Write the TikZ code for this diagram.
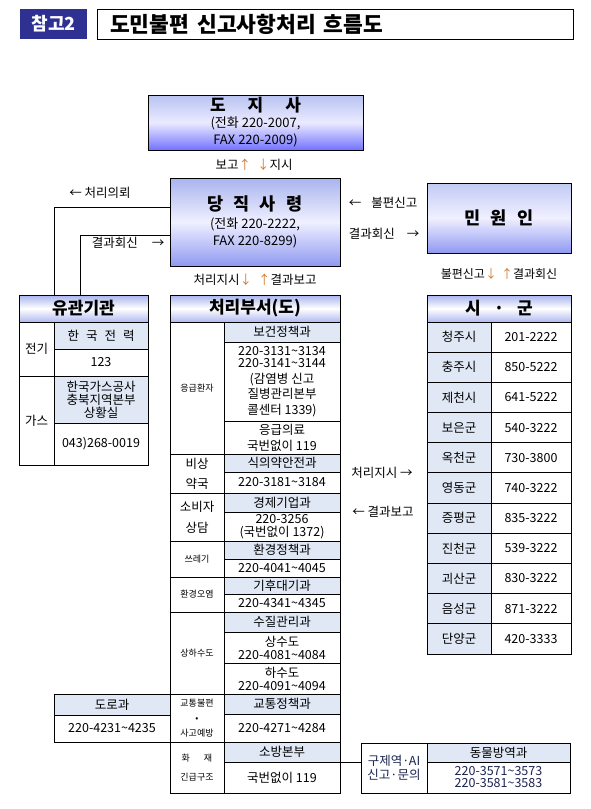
\documentclass[tikz,border=0pt]{standalone}
\usepackage{fontspec}
\setmainfont{Noto Sans CJK KR}
\usetikzlibrary{calc}
\definecolor{lb}{HTML}{E0E8F5}
\definecolor{navy}{HTML}{2E3192}
\definecolor{arrowc}{HTML}{D07A30}
\definecolor{hdtop}{HTML}{A8B4EE}
\definecolor{hdbot}{HTML}{B0BBF0}
\definecolor{txtnavy}{HTML}{1C2450}
\newcommand\fsz[2]{\fontsize{#1}{#2}\selectfont}
\newcommand\uar{{\color{arrowc}↑}}
\newcommand\dar{{\color{arrowc}↓}}
\newcommand\cellnode[7]{\node[cellstyle,#6,minimum width={(#4-#2)*1pt},minimum height={(#5-#3)*1pt}] (#1) at ({(#2+#4)/2},{(#3+#5)/2}) {#7};}
\tikzset{
  cellstyle/.style={draw=black, line width=0.9pt, inner sep=0pt, outer sep=0pt, align=center, font=\fsz{12.5}{14}, text=black},
  lbfill/.style={fill=lb},
  headfill/.style={top color=hdtop, bottom color=hdbot, middle color=white, font=\fsz{17}{20}\bfseries},
  small/.style={font=\fsz{9}{11}},
  mainbox/.style={draw=black, line width=0.9pt, inner sep=0pt, outer sep=0pt, align=center, font=\fsz{13}{17}},
  lbl/.style={inner sep=0pt, font=\fsz{12.5}{14}},
  conn/.style={draw=black, line width=0.9pt}
}
\begin{document}
\begin{tikzpicture}[x=1pt,y=-1pt]
\fill[white] (0,0) rectangle (590,809);
\useasboundingbox (0,0) rectangle (590,809);
% title
\node[fill=navy, text=white, inner sep=0pt, minimum width=67pt, minimum height=30pt, font=\fsz{18}{20}\bfseries] (ref) at (53.5,24) {참고2};
\node[draw=black, line width=1pt, inner sep=0pt, minimum width=476pt, minimum height=30pt] (titlebox) at (335,24) {};
\node[anchor=west, inner sep=0pt, font=\fsz{21.5}{24}\bfseries] (titletext) at (110,24) {도민불편\hspace{8pt}신고사항처리\hspace{8pt}흐름도};
% main boxes
\node[mainbox, top color=hdtop!80!white, bottom color=blue!55!white, middle color=blue!8!white, minimum width=215pt, minimum height=55pt] (doji) at (255.5,122.5)
  {{\fsz{17}{20}\bfseries 도\hspace{22pt}지\hspace{22pt}사}\\[-1pt](전화 220-2007,\\FAX 220-2009)};
\node[lbl] (bogo) at (254,165) {보고\uar\hspace{6pt}\dar 지시};
\node[mainbox, top color=hdtop, bottom color=hdtop!85!blue, middle color=blue!6!white, minimum width=170pt, minimum height=88pt] (dangjik) at (255,222)
  {{\fsz{17.5}{20}\bfseries 당\hspace{10pt}직\hspace{10pt}사\hspace{10pt}령}\\[1pt](전화 220-2222,\\FAX 220-8299)};
\node[lbl] (cheorijisi) at (255,280) {처리지시\dar\hspace{6pt}\uar 결과보고};
\node[mainbox, top color=hdtop!70!white, bottom color=hdtop!85!blue, middle color=blue!6!white, minimum width=144pt, minimum height=70pt] (minwon) at (499,218)
  {{\fsz{17.5}{20}\bfseries 민\hspace{10pt}원\hspace{10pt}인}};
\node[lbl] (bulpyeon) at (383,203) {←\hspace{10pt}불편신고};
\node[lbl] (gyeolgwa) at (384,234) {결과회신\hspace{12pt}→};
\node[lbl, font=\fsz{12}{14}] (mwlabel) at (499,274) {불편신고\dar\hspace{4pt}\uar 결과회신};
% 유관기관
\cellnode{yghead}{19}{295}{148}{322}{headfill}{유관기관}
\cellnode{jeongi}{19}{322}{54}{376}{}{전기}
\cellnode{kepco}{54}{322}{148}{349}{lbfill}{한\hspace{7pt}국\hspace{7pt}전\hspace{7pt}력}
\cellnode{kepcotel}{54}{349}{148}{376}{}{123}
\cellnode{gas}{19}{376}{54}{465}{}{가스}
\cellnode{kogas}{54}{376}{148}{423}{lbfill,font=\fsz{12.5}{13}}{한국가스공사\\충북지역본부\\상황실}
\cellnode{kogastel}{54}{423}{148}{465}{}{043)268-0019}
\node[lbl] (uiroe) at (100,193) {← 처리의뢰};
\node[lbl] (hoesin) at (128,243) {결과회신\hspace{14pt}→};
\coordinate (c1) at ($(dangjik.north west)!0.33!(dangjik.south west)$);
\coordinate (c2) at ($(dangjik.north west)!0.65!(dangjik.south west)$);
\draw[conn] (c1) -| (jeongi.east |- yghead.north);
\draw[conn] (c2) -| ($(yghead.north west)!0.48!(yghead.north east)$);
% 처리부서
\cellnode{chhead}{170}{295}{340}{322}{headfill}{처리부서(도)}
\cellnode{eunggeup}{170}{322}{224}{454}{small}{응급환자}
\cellnode{bogeon}{224}{322}{340}{342}{lbfill}{보건정책과}
\cellnode{bogeontel}{224}{342}{340}{421}{font=\fsz{12.5}{15.5}}{220-3131\textasciitilde3134\\[-3pt]220-3141\textasciitilde3144\\(감염병 신고\\질병관리본부\\콜센터 1339)}
\cellnode{eungmed}{224}{421}{340}{454}{font=\fsz{12.5}{16}}{응급의료\\국번없이 119}
\cellnode{bisang}{170}{454}{224}{493}{font=\fsz{12.5}{20}}{비상\\약국}
\cellnode{sikui}{224}{454}{340}{472}{lbfill}{식의약안전과}
\cellnode{sikuitel}{224}{472}{340}{493}{}{220-3181\textasciitilde3184}
\cellnode{sobija}{170}{493}{224}{541}{font=\fsz{12.5}{21}}{소비자\\상담}
\cellnode{gyeongje}{224}{493}{340}{512}{lbfill}{경제기업과}
\cellnode{gyeongjetel}{224}{512}{340}{541}{font=\fsz{12.5}{12.5}}{220-3256\\(국번없이 1372)}
\cellnode{sseuregi}{170}{541}{224}{577}{small}{쓰레기}
\cellnode{hwangyeong}{224}{541}{340}{559}{lbfill}{환경정책과}
\cellnode{hwangyeongtel}{224}{559}{340}{577}{}{220-4041\textasciitilde4045}
\cellnode{oyeom}{170}{577}{224}{612}{small}{환경오염}
\cellnode{gihu}{224}{577}{340}{594}{lbfill}{기후대기과}
\cellnode{gihutel}{224}{594}{340}{612}{}{220-4341\textasciitilde4345}
\cellnode{sangha}{170}{612}{224}{694}{small}{상하수도}
\cellnode{sujil}{224}{612}{340}{632}{lbfill}{수질관리과}
\cellnode{sangsu}{224}{632}{340}{663}{font=\fsz{12.5}{13}}{상수도\\220-4081\textasciitilde4084}
\cellnode{hasu}{224}{663}{340}{694}{font=\fsz{12.5}{13}}{하수도\\220-4091\textasciitilde4094}
\cellnode{gyotong}{170}{694}{224}{742}{small,font=\fsz{9}{15}}{교통불편\\•\\사고예방}
\cellnode{gyotongjc}{224}{694}{340}{714}{lbfill}{교통정책과}
\cellnode{gyotongtel}{224}{714}{340}{742}{}{220-4271\textasciitilde4284}
\cellnode{hwajae}{170}{742}{224}{793}{small,font=\fsz{9}{19}}{화\hspace{14pt}재\\긴급구조}
\cellnode{sobang}{224}{742}{340}{762}{lbfill}{소방본부}
\cellnode{sobangtel}{224}{762}{340}{793}{}{국번없이 119}
% 도로과
\cellnode{doro}{54}{694}{170}{715}{lbfill}{도로과}
\cellnode{dorotel}{54}{715}{170}{742}{}{220-4231\textasciitilde4235}
% 시군
\cellnode{sghead}{427}{295}{571}{322}{headfill}{시\hspace{13pt}·\hspace{13pt}군}
\foreach \nm/\tl [count=\i from 0] in {청주시/201-2222,충주시/850-5222,제천시/641-5222,보은군/540-3222,옥천군/730-3800,영동군/740-3222,증평군/835-3222,진천군/539-3222,괴산군/830-3222,음성군/871-3222,단양군/420-3333}{
  \pgfmathsetmacro\ya{322+\i*30.18}
  \pgfmathsetmacro\yb{322+(\i+1)*30.18}
  \cellnode{sgn\i}{427}{\ya}{491}{\yb}{lbfill}{\nm}
  \cellnode{sgt\i}{491}{\ya}{571}{\yb}{}{\tl}
}
\node[lbl] (jisi2) at (382,473) {처리지시 →};
\node[lbl] (bogo2) at (383,512) {← 결과보고};
% 구제역
\cellnode{gjleft}{361}{743}{427}{793}{text=txtnavy,font=\fsz{12.5}{14}}{구제역·AI\\신고·문의}
\cellnode{dongmul}{427}{743}{570}{762}{lbfill}{동물방역과}
\cellnode{dongmultel}{427}{762}{570}{793}{text=txtnavy,font=\fsz{12.5}{12}}{220-3571\textasciitilde3573\\220-3581\textasciitilde3583}
\draw[conn] (sobang.south east) -- (sobang.south east -| gjleft.west);
\end{tikzpicture}
\end{document}
